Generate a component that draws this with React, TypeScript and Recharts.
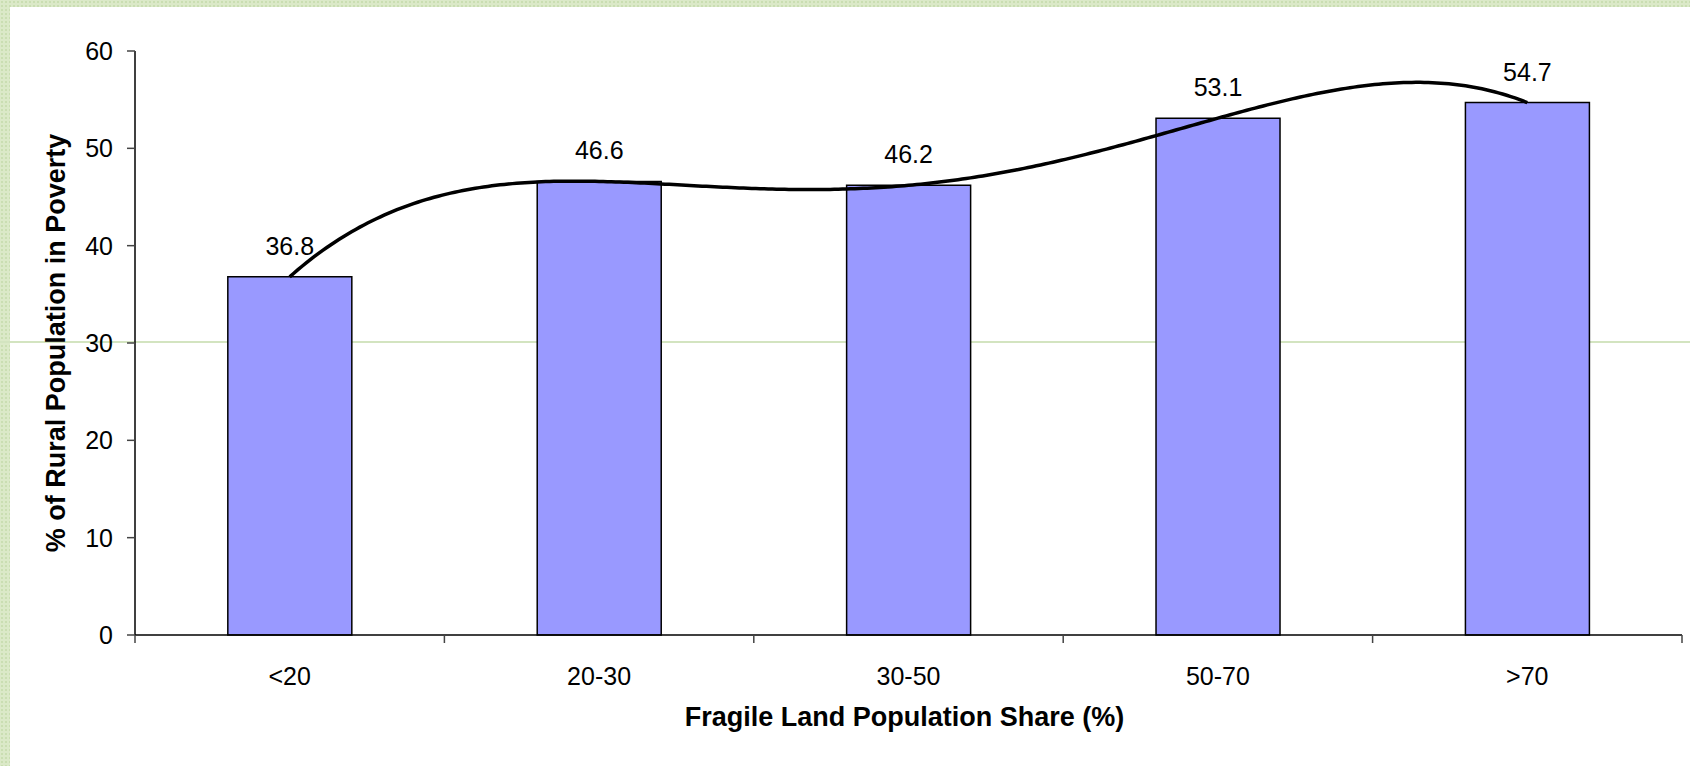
import React from 'react';
import { ComposedChart, Bar, Line, XAxis, YAxis, LabelList } from 'recharts';

const categories = ['<20', '20-30', '30-50', '50-70', '>70'];
const povertyShare = [36.8, 46.6, 46.2, 53.1, 54.7];
const yTicks = [0, 10, 20, 30, 40, 50, 60];

const data = categories.map((name, i) => ({ name, value: povertyShare[i] }));

const FONT = '"Liberation Sans", Arial, sans-serif';
const TICK_SIZE = 8;
const TICK_MARGIN = 24;

// trendline through all points (Excel-style polynomial), evaluated in pixel space
const polyCurve = (context: any) => {
  let pts: [number, number][] = [];
  return {
    areaStart() {},
    areaEnd() {},
    lineStart() {
      pts = [];
    },
    point(x: number, y: number) {
      pts.push([+x, +y]);
    },
    lineEnd() {
      if (pts.length === 0) return;
      const x0 = pts[0][0];
      const x1 = pts[pts.length - 1][0];
      const steps = 300;
      for (let s = 0; s <= steps; s++) {
        const x = x0 + ((x1 - x0) * s) / steps;
        let y = 0;
        for (let i = 0; i < pts.length; i++) {
          let l = 1;
          for (let j = 0; j < pts.length; j++) {
            if (j !== i) l *= (x - pts[j][0]) / (pts[i][0] - pts[j][0]);
          }
          y += pts[i][1] * l;
        }
        if (s === 0) context.moveTo(x, y);
        else context.lineTo(x, y);
      }
    },
  };
};

// category label plus tick marks on the category boundaries
const CategoryTick = (props: any) => {
  const { x, y, payload, index, width, visibleTicksCount } = props;
  const axisY = y - TICK_SIZE - TICK_MARGIN;
  const catW = typeof width === 'number' && visibleTicksCount ? width / visibleTicksCount : 0;
  return (
    <g>
      {catW > 0 && (
        <line x1={x - catW / 2} x2={x - catW / 2} y1={axisY} y2={axisY + TICK_SIZE} stroke="#444" strokeWidth={1.5} />
      )}
      {catW > 0 && index === visibleTicksCount - 1 && (
        <line x1={x + catW / 2} x2={x + catW / 2} y1={axisY} y2={axisY + TICK_SIZE} stroke="#444" strokeWidth={1.5} />
      )}
      <text x={x} y={y} dy="0.71em" textAnchor="middle" fontSize={25} fill="#000" fontFamily={FONT}>
        {payload.value}
      </text>
    </g>
  );
};

export default function App() {
  return (
    <div style={{ position: 'absolute', left: 0, top: 0, width: 1690, height: 766, background: '#fff', fontFamily: FONT }}>
      <style>{'body{margin:0}'}</style>
      <div
        style={{
          position: 'absolute', left: 0, top: 0, width: 1690, height: 7,
          backgroundColor: '#dbe9c8',
          backgroundImage: 'radial-gradient(#cadeb2 1px, transparent 1.2px)',
          backgroundSize: '4px 4px',
        }}
      />
      <div
        style={{
          position: 'absolute', left: 0, top: 0, width: 10, height: 766,
          backgroundColor: '#dbe9c8',
          backgroundImage: 'radial-gradient(#cadeb2 1px, transparent 1.2px)',
          backgroundSize: '4px 4px',
        }}
      />
      <div style={{ position: 'absolute', left: 0, top: 341, width: 1690, height: 1.5, background: '#d3e4c0' }} />
      <div style={{ position: 'absolute', left: 0, top: 0 }}>
        <ComposedChart
          width={1690}
          height={766}
          data={data}
          margin={{ top: 51, right: 8, bottom: 0, left: 0 }}
          barCategoryGap="30%"
        >
          <XAxis
            dataKey="name"
            height={131}
            tickLine={false}
            tickSize={TICK_SIZE}
            tickMargin={TICK_MARGIN}
            axisLine={{ stroke: '#000', strokeWidth: 1.5 }}
            tick={<CategoryTick />}
            interval={0}
            label={{
              value: 'Fragile Land Population Share (%)',
              position: 'insideBottom',
              offset: 40,
              dx: -4,
              fontSize: 27,
              fontWeight: 'bold',
              fill: '#000',
              fontFamily: FONT,
            }}
          />
          <YAxis
            width={135}
            domain={[0, 60]}
            ticks={yTicks}
            interval={0}
            tickSize={TICK_SIZE}
            tickMargin={14}
            axisLine={{ stroke: '#000', strokeWidth: 1.5 }}
            tickLine={{ stroke: '#444', strokeWidth: 1.5 }}
            tick={{ fontSize: 25, fill: '#000', fontFamily: FONT }}
            label={{
              value: '% of Rural Population in Poverty',
              angle: -90,
              position: 'center',
              dx: -12,
              fontSize: 27,
              fontWeight: 'bold',
              fill: '#000',
              fontFamily: FONT,
            }}
          />
          <Bar dataKey="value" fill="#9999ff" stroke="#000" strokeWidth={1.5} isAnimationActive={false}>
            <LabelList dataKey="value" position="top" offset={22} fontSize={25} fill="#000" fontFamily={FONT} />
          </Bar>
          <Line
            dataKey="value"
            type={polyCurve as any}
            stroke="#000"
            strokeWidth={3.5}
            dot={false}
            activeDot={false}
            isAnimationActive={false}
          />
        </ComposedChart>
      </div>
    </div>
  );
}
